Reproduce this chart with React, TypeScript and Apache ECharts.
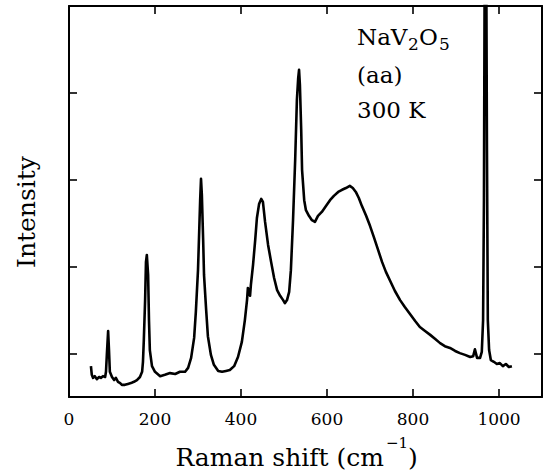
import React, { useEffect, useRef } from "react";
import * as echarts from "echarts";

// Raman shift (cm^-1) and intensity (arb. units)
const ramanShift = [
  51, 53, 56, 60, 65, 70, 74, 79, 84, 86,
  88, 91, 93, 95, 100, 105, 109, 114, 119, 123,
  130, 137, 144, 151, 158, 165, 170, 172, 174, 177,
  179, 181, 184, 186, 188, 193, 200, 212, 223, 235,
  247, 258, 270, 277, 284, 291, 295, 300, 305, 307,
  309, 312, 314, 319, 323, 330, 337, 347, 356, 365,
  374, 384, 393, 402, 409, 414, 416, 419, 421, 423,
  428, 433, 437, 442, 447, 451, 456, 463, 470, 477,
  484, 491, 498, 502, 507, 512, 516, 521, 526, 530,
  533, 535, 537, 540, 542, 547, 551, 558, 565, 572,
  579, 588, 598, 607, 616, 626, 635, 644, 653, 660,
  667, 674, 681, 691, 700, 709, 719, 728, 737, 747,
  758, 770, 781, 793, 805, 816, 828, 840, 851, 863,
  874, 886, 898, 909, 921, 933, 940, 944, 949, 956,
  960, 963, 965, 967, 970, 972, 974, 977, 981, 988,
  995, 1002, 1009, 1016, 1023, 1030,
];

const intensity = [
  -29, -49, -56, -52, -59, -54, -56, -52, -54, -42,
  -3, 52, 8, -42, -54, -61, -56, -65, -68, -72,
  -72, -70, -68, -65, -61, -54, -42, -19, 31, 123,
  211, 227, 181, 77, 8, -29, -42, -52, -49, -45,
  -47, -42, -42, -33, -10, 36, 96, 192, 353, 402,
  365, 261, 181, 100, 40, -3, -26, -40, -42, -40,
  -38, -29, -8, 27, 77, 123, 151, 142, 133, 158,
  204, 261, 312, 344, 356, 349, 303, 250, 211, 174,
  146, 133, 123, 116, 123, 142, 192, 307, 446, 584,
  634, 653, 618, 515, 423, 353, 330, 317, 307, 303,
  317, 326, 340, 353, 363, 372, 377, 381, 386, 381,
  372, 358, 340, 317, 294, 268, 238, 211, 188, 167,
  144, 123, 107, 91, 75, 61, 52, 43, 34, 24,
  17, 13, 6, 1, -3, -8, -6, 10, -10, -10,
  4, 77, 353, 1000, 1000, 468, 77, 8, -15, -19,
  -24, -22, -29, -24, -31, -29,
];

const xTicks = [0, 200, 400, 600, 800, 1000];
const yTicks = [0, 200, 400, 600];

const FONT = "DejaVu Serif";

function txt(text: string, x: number, y: number, size: number, align = "left", rotation = 0) {
  return {
    type: "text",
    x,
    y,
    rotation,
    style: {
      text,
      fontFamily: FONT,
      fontSize: size,
      fill: "#000",
      align,
      verticalAlign: "middle",
    },
  };
}

export default function App() {
  const ref = useRef<HTMLDivElement>(null);

  useEffect(() => {
    if (!ref.current) return;
    const chart = echarts.init(ref.current, null, { renderer: "svg" });
    const data = ramanShift.map((x, i) => [x, intensity[i]]);

    const axisLine = { show: true, onZero: false, lineStyle: { color: "#000", width: 2 } };
    const tickStyle = { color: "#000", width: 1.6 };

    chart.setOption({
      animation: false,
      backgroundColor: "#fff",
      grid: { left: 69, top: 6, width: 473, height: 391, containLabel: false },
      xAxis: [
        {
          type: "value",
          min: 0,
          max: 1100,
          axisLine,
          splitLine: { show: false },
          axisTick: { show: true, inside: true, length: 8, lineStyle: tickStyle, customValues: xTicks },
          axisLabel: {
            show: true,
            customValues: xTicks,
            formatter: (v: number) => String(v),
            margin: 13,
            fontFamily: FONT,
            fontSize: 17,
            color: "#000",
          },
        },
        {
          type: "value",
          position: "top",
          min: 0,
          max: 1100,
          axisLine,
          splitLine: { show: false },
          axisTick: { show: true, inside: true, length: 8, lineStyle: tickStyle, customValues: xTicks },
          axisLabel: { show: false },
        },
      ],
      yAxis: [
        {
          type: "value",
          min: -100,
          max: 800,
          axisLine,
          splitLine: { show: false },
          axisTick: { show: true, inside: true, length: 8, lineStyle: tickStyle, customValues: yTicks },
          axisLabel: { show: false },
        },
        {
          type: "value",
          position: "right",
          min: -100,
          max: 800,
          axisLine,
          splitLine: { show: false },
          axisTick: { show: true, inside: true, length: 8, lineStyle: tickStyle, customValues: yTicks },
          axisLabel: { show: false },
        },
      ],
      series: [
        {
          type: "line",
          data,
          xAxisIndex: 0,
          yAxisIndex: 0,
          showSymbol: false,
          symbol: "none",
          clip: true,
          lineStyle: { color: "#000", width: 2.6, join: "round" },
        },
      ],
      graphic: [
        txt("Intensity", 26, 212, 25, "center", Math.PI / 2),
        txt("Raman shift (cm", 384, 457, 25, "right"),
        txt("−1", 386, 443, 15, "left"),
        txt(")", 408, 457, 25, "left"),
        txt("NaV", 357, 37, 23, "left"),
        txt("2", 408, 44, 17, "left"),
        txt("O", 419, 37, 23, "left"),
        txt("5", 439, 44, 17, "left"),
        txt("(aa)", 357, 75, 23, "left"),
        txt("300 K", 357, 110, 23, "left"),
      ],
    });

    return () => chart.dispose();
  }, []);

  return <div ref={ref} style={{ width: 544, height: 471, position: "absolute", left: 0, top: 0 }} />;
}
